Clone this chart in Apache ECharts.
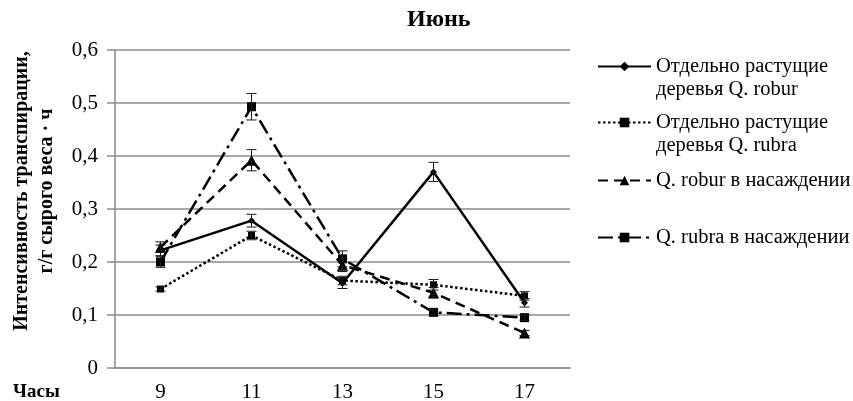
<!DOCTYPE html>
<html>
<head>
<meta charset="utf-8">
<script src="https://cdn.jsdelivr.net/npm/echarts@6/dist/echarts.min.js"></script>
<style>
  html, body { margin: 0; padding: 0; background: #fff; }
  #chart { width: 853px; height: 401px; }
</style>
</head>
<body>
<div id="chart"></div>
<script>
// Hours of measurement
const hours = ['9', '11', '13', '15', '17'];

// Transpiration rate, g/g fresh weight per hour
const roburSolitary = [0.222, 0.278, 0.160, 0.370, 0.123];
const rubraSolitary = [0.149, 0.250, 0.165, 0.157, 0.136];
const roburStand   = [0.228, 0.392, 0.194, 0.142, 0.066];
const rubraStand   = [0.200, 0.493, 0.206, 0.105, 0.095];

// Standard errors
const roburSolitaryErr = [0.010, 0.012, 0.010, 0.018, 0.008];
const rubraSolitaryErr = [0.004, 0.008, 0.008, 0.010, 0.008];
const roburStandErr    = [0.010, 0.020, 0.012, 0.010, 0.005];
const rubraStandErr    = [0.010, 0.025, 0.015, 0.005, 0.005];

const yTicks = [0, 0.1, 0.2, 0.3, 0.4, 0.5, 0.6];

const names = [
  'Отдельно растущие\nдеревья Q. robur',
  'Отдельно растущие\nдеревья Q. rubra',
  'Q. robur в насаждении',
  'Q. rubra в насаждении'
];

const FONT = 'Liberation Serif';
const GRID = '#8c8c8c';

function lineSeries(name, data, dash, symbol, size) {
  return {
    name: name,
    type: 'line',
    data: data,
    symbol: symbol,
    symbolSize: size,
    itemStyle: { color: '#000' },
    lineStyle: { color: '#000', width: 2.5, type: dash, cap: 'butt' },
    emphasis: { disabled: true },
    z: 3
  };
}

function errorSeries(values, errs) {
  return {
    type: 'custom',
    data: values.map((v, i) => [i, v - errs[i], v + errs[i]]),
    renderItem: function (params, api) {
      const lo = api.coord([api.value(0), api.value(1)]);
      const hi = api.coord([api.value(0), api.value(2)]);
      const w = 5;
      const style = { stroke: '#1a1a1a', lineWidth: 1, fill: null };
      return {
        type: 'group',
        children: [
          { type: 'line', shape: { x1: lo[0], y1: lo[1], x2: hi[0], y2: hi[1] }, style: style },
          { type: 'line', shape: { x1: lo[0] - w, y1: lo[1], x2: lo[0] + w, y2: lo[1] }, style: style },
          { type: 'line', shape: { x1: hi[0] - w, y1: hi[1], x2: hi[0] + w, y2: hi[1] }, style: style }
        ]
      };
    },
    z: 4,
    silent: true
  };
}

// Two-line entries get an empty leading line so the symbol sits level with the first line
function legendFor(name, top, twoLines) {
  return {
    data: [name],
    left: 597,
    top: top,
    orient: 'vertical',
    padding: 0,
    itemWidth: 53,
    itemHeight: 12,
    selectedMode: false,
    formatter: n => (twoLines ? '\n' + n : n),
    textStyle: {
      fontFamily: FONT,
      fontSize: 20.5,
      color: '#000',
      lineHeight: 23
    }
  };
}

const chart = echarts.init(document.getElementById('chart'), null, { renderer: 'canvas' });

chart.setOption({
  animation: false,
  backgroundColor: '#fff',
  title: {
    text: 'Июнь',
    left: 407,
    top: 8,
    padding: 0,
    textStyle: { fontFamily: FONT, fontSize: 24, fontWeight: 'bold', color: '#000' }
  },
  grid: { left: 115, right: 283, top: 50, bottom: 33, containLabel: false, outerBoundsMode: 'none' },
  legend: [
    legendFor(names[0], 32, true),
    legendFor(names[1], 88, true),
    legendFor(names[2], 169, false),
    legendFor(names[3], 226, false)
  ],
  xAxis: {
    type: 'category',
    data: hours,
    boundaryGap: true,
    axisLine: { lineStyle: { color: GRID, width: 1.5 } },
    axisTick: { show: false },
    axisLabel: { fontFamily: FONT, fontSize: 21, color: '#000', margin: 14 }
  },
  yAxis: {
    type: 'value',
    min: yTicks[0],
    max: yTicks[yTicks.length - 1],
    interval: 0.1,
    axisLine: { show: true, lineStyle: { color: GRID, width: 1.5 } },
    axisTick: { show: true, length: 8, lineStyle: { color: GRID, width: 1.5 } },
    splitLine: { lineStyle: { color: GRID, width: 1.5 } },
    axisLabel: {
      fontFamily: FONT, fontSize: 21, color: '#000', margin: 17,
      formatter: v => (v === 0 ? '0' : v.toFixed(1).replace('.', ','))
    }
  },
  graphic: [
    {
      type: 'text',
      x: 34,
      y: 191,
      rotation: Math.PI / 2,
      style: {
        text: 'Интенсивность транспирации,\nг/г сырого веса · ч',
        fontFamily: FONT,
        fontSize: 20,
        fontWeight: 'bold',
        lineHeight: 25,
        fill: '#000',
        textAlign: 'center',
        textVerticalAlign: 'middle'
      }
    },
    {
      type: 'text',
      x: 13,
      y: 392,
      style: {
        text: 'Часы',
        fontFamily: FONT,
        fontSize: 19,
        fontWeight: 'bold',
        fill: '#000',
        textAlign: 'left',
        textVerticalAlign: 'middle'
      }
    }
  ],
  series: [
    lineSeries(names[0], roburSolitary, 'solid', 'diamond', 7),
    lineSeries(names[1], rubraSolitary, [2.5, 2.5], 'rect', 7),
    lineSeries(names[2], roburStand, [10, 6], 'triangle', 11),
    lineSeries(names[3], rubraStand, [15, 5, 3, 5], 'rect', 9),
    errorSeries(roburSolitary, roburSolitaryErr),
    errorSeries(rubraSolitary, rubraSolitaryErr),
    errorSeries(roburStand, roburStandErr),
    errorSeries(rubraStand, rubraStandErr)
  ]
});
</script>
</body>
</html>
